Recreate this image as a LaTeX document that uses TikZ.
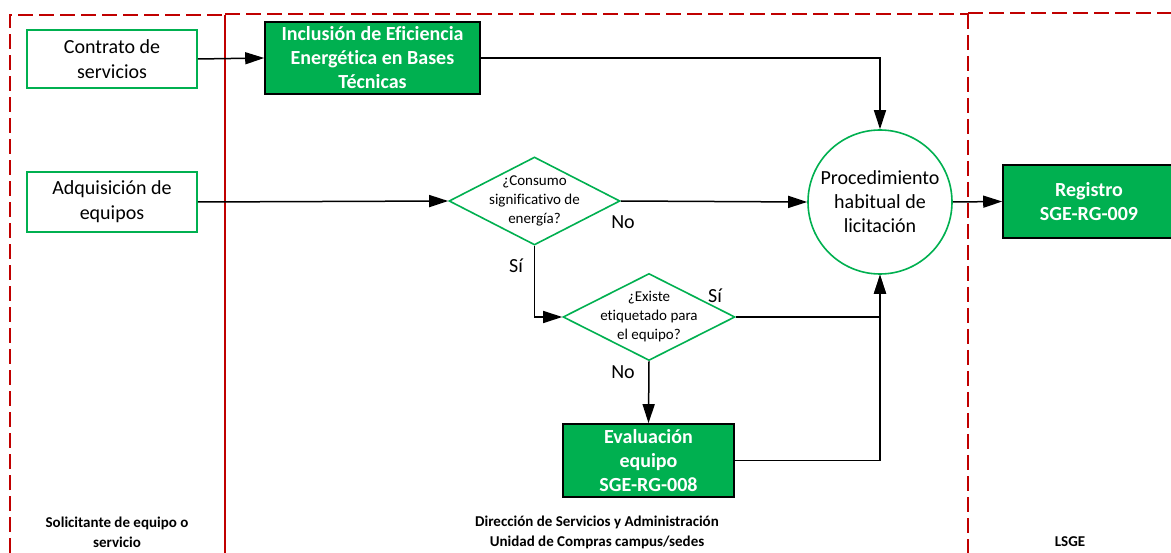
\documentclass[tikz,border=0pt]{standalone}
\usepackage{fontspec}
\setmainfont[Ligatures=CommonOff]{Carlito}
\usetikzlibrary{shapes.geometric,arrows.meta}
\definecolor{lanered}{RGB}{192,0,0}
\definecolor{boxgreen}{RGB}{0,176,80}
\definecolor{edgegreen}{RGB}{0,176,80}
\tikzset{
  lane/.style={draw=lanered,line width=2pt,dash pattern=on 15pt off 6pt},
  lanesolid/.style={draw=lanered,line width=2pt},
  inbox/.style={draw=edgegreen,line width=1.6pt,fill=white,minimum width=170pt,minimum height=58pt,inner sep=0pt,align=center,font=\fontsize{20}{25}\selectfont},
  gbox/.style={draw=black,line width=1.6pt,fill=boxgreen,text=white,inner sep=0pt,align=center,font=\bfseries\fontsize{20}{24}\selectfont},
  dia/.style={diamond,draw=edgegreen,line width=1.6pt,minimum width=171pt,minimum height=88pt,inner sep=0pt},
  diatext/.style={inner sep=0pt,align=center,font=\fontsize{15}{19}\selectfont},
  circ/.style={circle,draw=edgegreen,line width=1.6pt,minimum size=144pt,inner sep=0pt,align=center,font=\fontsize{20}{24}\selectfont},
  conn/.style={draw=black,line width=1.5pt,-{Triangle[length=19pt,width=12pt]}},
  lbl/.style={inner sep=0pt,font=\fontsize{20}{24}\selectfont},
  lanelbl/.style={inner sep=0pt,align=center,font=\bfseries\fontsize{15}{20}\selectfont},
}
\begin{document}
\begin{tikzpicture}[x=1pt,y=-1pt]
\clip (0,0) rectangle (1171,553);
\fill[white] (0,0) rectangle (1171,553);
% lanes
\draw[lane] (10,553) -- (10,15) -- (225,15);
\draw[lanesolid] (225,15) -- (225,553);
\draw[lane] (225,14) -- (968,14);
\draw[lane] (968,14) -- (968,553);
\draw[lane] (968,13) -- (1171,13);
% nodes
\node[inbox] (contrato) at (112,59) {Contrato de\\servicios};
\node[inbox,minimum height=60pt] (adq) at (112,202) {Adquisición de\\equipos};
\node[gbox,minimum width=215pt,minimum height=72pt] (incl) at (372.5,58) {Inclusión de Eficiencia\\Energética en Bases\\Técnicas};
\node[dia] (d1) at (534.5,201) {};
\node[diatext] at (d1.center) {¿Consumo\\significativo de\\energía?};
\node[dia,minimum width=172pt,minimum height=87pt] (d2) at (649,317) {};
\node[diatext] at (d2.center) {¿Existe\\etiquetado para\\el equipo?};
\node[circ] (proc) at (880,202) {Procedimiento\\habitual de\\licitación};
\node[gbox,minimum width=171pt,minimum height=73pt] (eval) at (648.5,460.5) {Evaluación\\equipo\\SGE-RG-008};
\node[gbox,minimum width=172pt,minimum height=73pt] (reg) at (1089,201.5) {Registro\\SGE-RG-009};
% connectors
\draw[conn] (contrato.east) -- (incl.west);
\draw[conn] (adq.east) -- (d1.west);
\draw[conn] (incl.east) -| (proc.north);
\draw[conn] (d1.east) -- (proc.west);
\draw[conn] (d1.south) |- (d2.west);
\draw[conn] (d2.east) -| (proc.south);
\draw[conn] (d2.south) -- (eval.north);
\draw[conn] (eval.east) -| (proc.south);
\draw[conn] (proc.east) -- (reg.west);
% labels
\node[lbl] (no1) at (623,222) {No};
\node[lbl] (si1) at (516,266) {Sí};
\node[lbl] (si2) at (715,296) {Sí};
\node[lbl] (no2) at (623,372) {No};
\node[lanelbl] (l1) at (117,532) {Solicitante de equipo o\\servicio};
\node[lanelbl] (l2) at (597,532) {Dirección de Servicios y Administración\\Unidad de Compras campus/sedes};
\node[lanelbl] (l3) at (1070,542) {LSGE};
\end{tikzpicture}
\end{document}
